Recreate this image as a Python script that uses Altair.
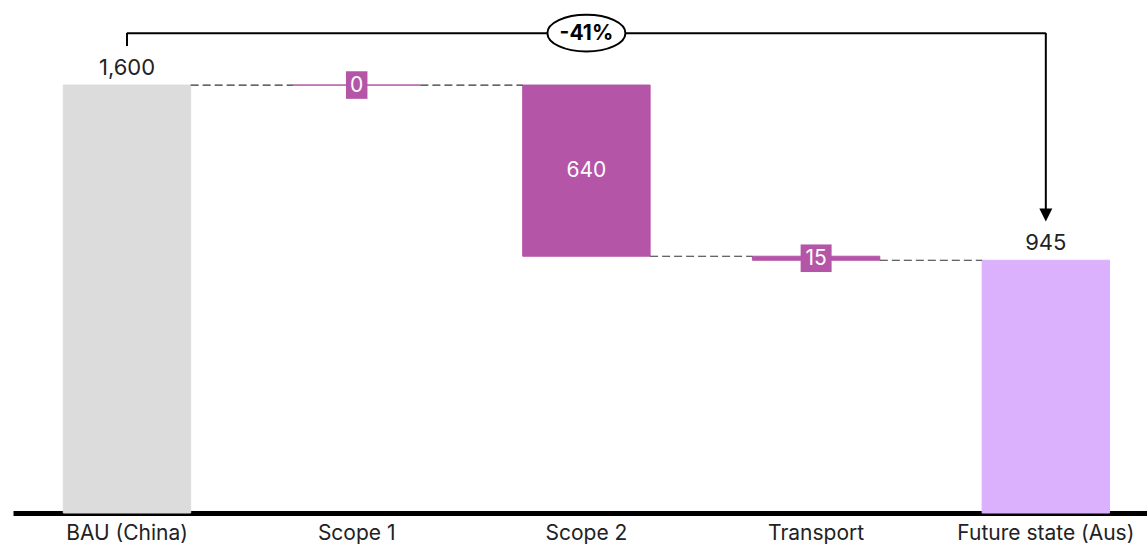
import altair as alt
import pandas as pd

# Emissions waterfall: business-as-usual total, reductions, future total
categories = ["BAU (China)", "Scope 1", "Scope 2", "Transport", "Future state (Aus)"]
values = [1600, 0, 640, 15, 945]
kinds = ["start", "step", "step", "step", "end"]

kind_domain = ["start", "step", "end"]
kind_colors = ["#dcdcdc", "#b455a8", "#dbb1fd"]

FONT = "Inter"
TEXT_COLOR = "#222222"

# Vertical placement of the change bracket (in value units)
BRACKET_Y = 1794
TICK_Y = 1746
STEM_END_Y = 1136
ARROW_Y = 1114

# ---- derive bar extents -------------------------------------------------
rows = []
level = 0
for cat, val, kind in zip(categories, values, kinds):
    if kind == "step":
        top, bottom = level, level - val
        level = bottom
    else:
        top, bottom = val, 0
        level = val
    rows.append(dict(cat=cat, value=val, kind=kind, top=top, bottom=bottom,
                     mid=(top + bottom) / 2, label=f"{val:,}"))
bars = pd.DataFrame(rows)

links = pd.DataFrame([
    dict(src=rows[i]["cat"], dst=rows[i + 1]["cat"],
         level=rows[i]["bottom"] if rows[i]["kind"] == "step" else rows[i]["top"])
    for i in range(len(rows) - 1)
])

totals = bars[bars.kind != "step"]
steps = bars[bars.kind == "step"]
inside = steps[steps.value >= 100]
boxed = steps[steps.value < 100].copy()


def box_path(text):
    half_w = (9.5 * len(text) + 12) / 2 / 13.8
    return f"M{-half_w:.3f},-1H{half_w:.3f}V1H{-half_w:.3f}Z"


boxed["box"] = boxed.label.map(box_path)

change = round((values[-1] - values[0]) / values[0] * 100)
first, last = categories[0], categories[-1]
mid_cat = categories[len(categories) // 2]
bracket = pd.DataFrame([dict(a=first, b=last, mid=mid_cat, text=f"{change}%")])

# ---- scales -------------------------------------------------------------
xscale = alt.Scale(domain=categories, paddingInner=0.4454, paddingOuter=0.1911, align=0.573)
yscale = alt.Scale(domain=[0, 1918], nice=False, zero=False)
color_scale = alt.Scale(domain=kind_domain, range=kind_colors)

xaxis = alt.Axis(title=None, labelAngle=0, domainColor="black", domainWidth=5,
                 ticks=False, tickSize=0, labelPadding=9, labelFontSize=21,
                 labelColor=TEXT_COLOR, labelFont=FONT, labelLimit=0, grid=False)


def X(field, **kw):
    return alt.X(field, scale=xscale, **kw)


def Y(field):
    return alt.Y(field, scale=yscale, axis=None)


# ---- layers -------------------------------------------------------------
connectors = alt.Chart(links).mark_rule(color="#333333", strokeWidth=1.2, strokeDash=[8, 4]).encode(
    x=X("src:N", bandPosition=1, axis=xaxis),
    x2=alt.X2("dst:N", bandPosition=0),
    y=Y("level:Q"),
)

bar_layer = alt.Chart(bars).mark_bar(strokeWidth=1).encode(
    x=X("cat:N", axis=xaxis),
    y=Y("bottom:Q"),
    y2="top:Q",
    fill=alt.Fill("kind:N", scale=color_scale, legend=None),
    stroke=alt.Stroke("kind:N", scale=color_scale, legend=None),
)

total_labels = alt.Chart(totals).mark_text(
    font=FONT, fontSize=22, color=TEXT_COLOR, baseline="alphabetic", dy=-10
).encode(
    x=X("cat:N", axis=xaxis),
    y=Y("top:Q"),
    text="label:N",
)

inside_labels = alt.Chart(inside).mark_text(
    font=FONT, fontSize=21, color="white", baseline="middle"
).encode(
    x=X("cat:N", axis=xaxis),
    y=Y("mid:Q"),
    text="label:N",
)

label_boxes = alt.Chart(boxed).mark_point(filled=True, opacity=1, color="#b455a8", size=761).encode(
    x=X("cat:N", axis=xaxis),
    y=Y("mid:Q"),
    shape=alt.Shape("box:N", scale=None, legend=None),
)

boxed_labels = alt.Chart(boxed).mark_text(
    font=FONT, fontSize=21, color="white", baseline="middle", dy=1
).encode(
    x=X("cat:N", axis=xaxis),
    y=Y("mid:Q"),
    text="label:N",
)

bracket_top = alt.Chart(bracket).mark_rule(color="black", strokeWidth=2).encode(
    x=X("a:N", axis=xaxis),
    x2=alt.X2("b:N"),
    y=Y("by:Q"),
).transform_calculate(by=str(BRACKET_Y))

bracket_left = alt.Chart(bracket).mark_rule(color="black", strokeWidth=2).encode(
    x=X("a:N", axis=xaxis),
    y=Y("y0:Q"),
    y2="y1:Q",
).transform_calculate(y0=str(TICK_Y), y1=str(BRACKET_Y + 1))

bracket_right = alt.Chart(bracket).mark_rule(color="black", strokeWidth=2).encode(
    x=X("b:N", axis=xaxis),
    y=Y("y0:Q"),
    y2="y1:Q",
).transform_calculate(y0=str(STEM_END_Y), y1=str(BRACKET_Y + 1))

arrow_head = alt.Chart(bracket).mark_point(
    filled=True, opacity=1, color="black", size=169, shape="M-1,-1L1,-1L0,1Z"
).encode(
    x=X("b:N", axis=xaxis),
    y=Y("ay:Q"),
).transform_calculate(ay=str(ARROW_Y))

ellipse = alt.Chart(bracket).mark_point(
    filled=True, opacity=1, fill="white", stroke="black", strokeWidth=2, size=6084,
    shape="M-1,0A1,0.47 0 1,1 1,0A1,0.47 0 1,1 -1,0Z",
).encode(
    x=X("mid:N", axis=xaxis),
    y=Y("by:Q"),
).transform_calculate(by=str(BRACKET_Y))

change_label = alt.Chart(bracket).mark_text(
    font=FONT, fontSize=21, fontWeight="bold", color="black", baseline="middle", dy=1
).encode(
    x=X("mid:N", axis=xaxis),
    y=Y("by:Q"),
    text="text:N",
).transform_calculate(by=str(BRACKET_Y))

chart = alt.layer(
    bar_layer, connectors, total_labels, inside_labels, label_boxes, boxed_labels,
    bracket_top, bracket_left, bracket_right, arrow_head, ellipse, change_label,
).properties(
    width=1134,
    height=513,
    background="white",
    autosize=alt.AutoSizeParams(type="none"),
    padding={"left": 13, "top": 0, "right": 0, "bottom": 32},
).configure_view(stroke="transparent", strokeWidth=0)

chart.save("out.html", embed_options={"renderer": "svg", "actions": False})
